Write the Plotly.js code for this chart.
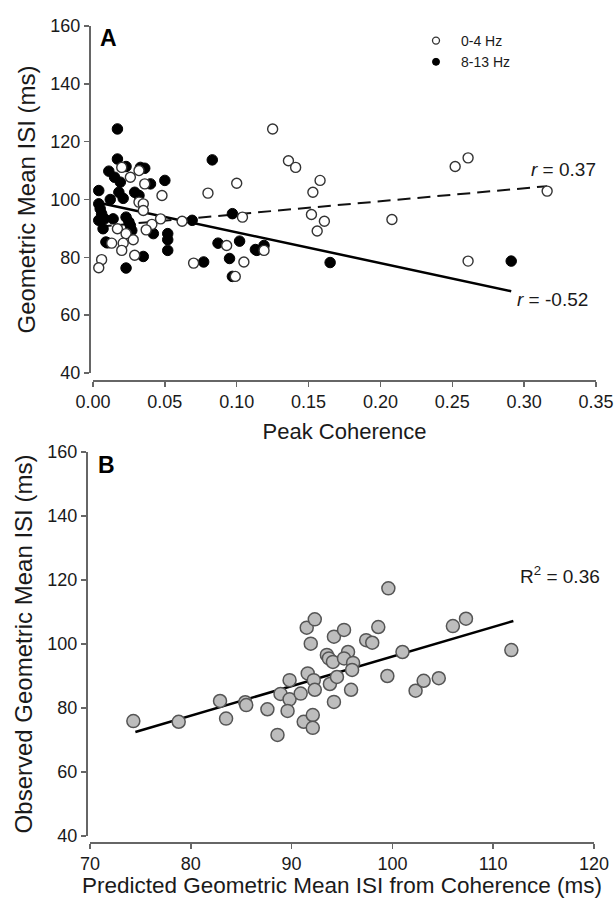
<!DOCTYPE html>
<html>
<head>
<meta charset="utf-8">
<script src="https://cdn.plot.ly/plotly-3.0.1.min.js"></script>
<style>html,body{margin:0;padding:0;background:#fff;}#chart{width:615px;height:898px;}</style>
</head>
<body>
<div id="chart"></div>
<script>
// ---- Panel A: 0-4 Hz (open circles) ----
var lowCoh = [0.020,0.026,0.032,0.036,0.048,0.032,0.035,0.035,0.047,0.041,0.017,0.023,0.037,0.013,0.021,0.028,0.020,0.029,0.006,0.004,0.062,0.070,0.080,0.100,0.104,0.093,0.105,0.099,0.125,0.136,0.141,0.158,0.153,0.152,0.161,0.156,0.208,0.119,0.252,0.261,0.316,0.261];
var lowISI = [111.1,107.7,110.0,105.4,101.4,99.1,98.5,96.2,93.3,91.4,89.9,88.2,89.5,84.9,84.9,86.1,82.4,80.7,79.2,76.4,92.5,78.0,102.2,105.6,93.9,84.1,78.4,73.4,124.4,113.4,111.1,106.6,102.5,94.8,92.5,89.1,93.1,82.4,111.4,114.4,102.9,78.7];
// ---- Panel A: 8-13 Hz (filled circles) ----
var alphaCoh = [0.017,0.017,0.023,0.011,0.015,0.019,0.033,0.036,0.040,0.050,0.004,0.018,0.029,0.032,0.012,0.021,0.004,0.005,0.006,0.004,0.008,0.014,0.023,0.025,0.026,0.007,0.027,0.009,0.010,0.042,0.052,0.052,0.052,0.035,0.023,0.069,0.083,0.077,0.087,0.097,0.102,0.095,0.097,0.113,0.114,0.119,0.165,0.291];
var alphaISI = [124.4,114.0,111.4,109.8,107.7,106.0,111.1,110.8,105.4,106.6,103.1,102.5,102.5,101.4,100.0,100.4,98.5,96.8,95.1,92.8,93.3,93.3,93.9,92.2,91.0,89.9,89.3,85.3,85.0,88.2,88.2,86.1,82.4,80.3,76.3,92.8,113.7,78.4,84.9,95.1,85.6,79.6,73.4,82.7,82.4,84.1,78.2,78.7];
// regression lines
var fitLowX = [0.004, 0.316];
var fitLowY = [90.6, 104.6];
var fitAlphaX = [0.004, 0.291];
var fitAlphaY = [98.9, 68.3];
// ---- Panel B ----
var predISI = [74.3,78.8,82.9,83.5,85.4,85.5,87.6,88.6,88.9,89.8,89.8,89.6,90.9,91.2,92.1,92.1,91.6,92.2,92.3,91.5,92.3,91.9,93.8,94.5,94.2,95.9,93.5,93.7,94.1,94.2,95.2,95.6,95.2,96.1,96.0,99.6,98.6,97.4,98.0,99.5,101.0,102.3,103.1,104.6,106.0,107.3,111.8];
var obsISI = [75.9,75.7,82.2,76.7,81.8,80.9,79.6,71.6,84.4,88.7,82.7,79.1,84.5,75.7,77.8,73.8,90.8,88.7,85.7,105.1,107.7,100.1,87.5,89.7,81.9,85.7,96.6,95.5,94.4,102.3,104.4,97.5,95.5,94.1,91.9,117.4,105.3,101.2,100.4,90.0,97.5,85.4,88.5,89.3,105.6,107.9,98.1];
var fitBX = [74.5, 112.0];
var fitBY = [72.5, 107.2];

var W = 615, H = 898;
function px(x){return x/W;}
function py(y){return 1 - y/H;}
var FONT = 'Liberation Sans, Arial, Helvetica, sans-serif';
var TXT = '#1a1a1a';
var AX = '#666';

var traces = [
  {x: fitLowX, y: fitLowY, xaxis:'x', yaxis:'y', mode:'lines', line:{color:'#111', width:2, dash:'13px,7px'}, showlegend:false, hoverinfo:'skip'},
  {x: fitAlphaX, y: fitAlphaY, xaxis:'x', yaxis:'y', mode:'lines', line:{color:'#000', width:2.5}, showlegend:false, hoverinfo:'skip'},
  {x: alphaCoh, y: alphaISI, xaxis:'x', yaxis:'y', mode:'markers', marker:{size:10.5, color:'#000', line:{color:'#000', width:1}}, showlegend:false},
  {x: lowCoh, y: lowISI, xaxis:'x', yaxis:'y', mode:'markers', marker:{size:10, color:'#fff', line:{color:'#333', width:1.4}}, showlegend:false},
  // legend-only entries
  {x:[null], y:[null], xaxis:'x', yaxis:'y', mode:'markers', name:'0-4 Hz', marker:{size:7, color:'#fff', line:{color:'#333', width:1.3}}},
  {x:[null], y:[null], xaxis:'x', yaxis:'y', mode:'markers', name:'8-13 Hz', marker:{size:7, color:'#000', line:{color:'#000', width:1}}},
  {x: fitBX, y: fitBY, xaxis:'x2', yaxis:'y2', mode:'lines', line:{color:'#000', width:2.5}, showlegend:false, hoverinfo:'skip'},
  {x: predISI, y: obsISI, xaxis:'x2', yaxis:'y2', mode:'markers', marker:{size:13, color:'#bdbdbd', line:{color:'#555', width:1.5}}, showlegend:false}
];

function axisBase(){
  return {
    showline:true, linecolor:AX, linewidth:1.5,
    ticks:'outside', ticklen:5, tickwidth:1.5, tickcolor:AX,
    showgrid:false, zeroline:false,
    tickfont:{family:FONT, size:18, color:TXT},
    fixedrange:true
  };
}
var xa = Object.assign(axisBase(), {
  domain:[px(93), px(596)], range:[0,0.35], dtick:0.05, tick0:0, tickformat:'.2f',
  anchor:'free', position:py(380),
  title:{text:'Peak Coherence', font:{family:FONT, size:22, color:TXT}, standoff:12}
});
var ya = Object.assign(axisBase(), {
  domain:[py(373), py(26)], range:[40,160], dtick:20, tick0:40,
  anchor:'free', position:px(89),
  title:{text:'Geometric Mean ISI (ms)', font:{family:FONT, size:24, color:TXT}, standoff:6}
});
var xb = Object.assign(axisBase(), {
  domain:[px(90), px(594)], range:[70,120], dtick:10, tick0:70,
  anchor:'free', position:py(842),
  title:{text:'Predicted Geometric Mean ISI from Coherence (ms)', font:{family:FONT, size:22.5, color:TXT}, standoff:4}
});
var yb = Object.assign(axisBase(), {
  domain:[py(836), py(452)], range:[40,160], dtick:20, tick0:40,
  anchor:'free', position:px(86),
  title:{text:'Observed Geometric Mean ISI (ms)', font:{family:FONT, size:24, color:TXT}, standoff:6}
});

function note(x, y, text, size, bold){
  return {xref:'paper', yref:'paper', x:px(x), y:py(y), xanchor:'center', yanchor:'middle',
          text:text, showarrow:false, font:{family:FONT, size:size, color: bold ? '#000' : TXT}};
}

var layout = {
  width:W, height:H,
  margin:{l:0, r:0, t:0, b:0},
  paper_bgcolor:'#fff', plot_bgcolor:'#fff',
  font:{family:FONT, color:TXT},
  xaxis:xa, yaxis:ya, xaxis2:xb, yaxis2:yb,
  showlegend:true,
  legend:{x:px(411), y:py(25), xanchor:'left', yanchor:'top', bgcolor:'rgba(0,0,0,0)', itemwidth:40,
          font:{family:FONT, size:14, color:TXT}, tracegroupgap:0},
  annotations:[
    note(108, 38, '<b>A</b>', 23, true),
    note(106, 465, '<b>B</b>', 23, true),
    note(563, 169, '<i>r</i> = 0.37', 19),
    note(552, 299, '<i>r</i> = -0.52', 19),
    note(560, 575, 'R<sup>2</sup> = 0.36', 19)
  ]
};

Plotly.newPlot('chart', traces, layout, {displayModeBar:false, staticPlot:true});
</script>
</body>
</html>
